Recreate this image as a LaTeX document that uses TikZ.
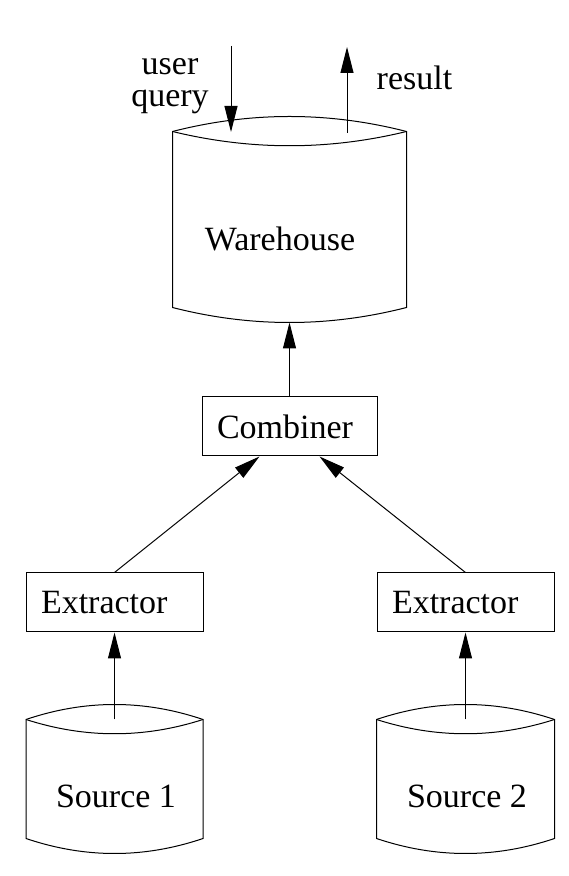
\documentclass[tikz,border=0pt]{standalone}
\usepackage{fontspec}
\setmainfont{Liberation Serif}
\usepackage{tikz}
\usetikzlibrary{calc,positioning,arrows.meta}

\newcommand{\drumoutline}[1]{%
    \draw (#1.north west)
        .. controls ($(#1.north west)!1/3!(#1.north east)+(0,20)$) and ($(#1.north west)!2/3!(#1.north east)+(0,20)$) ..
        (#1.north east) --
        ($(#1.south east)+(0,15)$)
        .. controls ($(#1.south east)!1/3!(#1.south west)+(0,-5)$) and ($(#1.south east)!2/3!(#1.south west)+(0,-5)$) ..
        ($(#1.south west)+(0,15)$) --
        cycle;
    \draw (#1.north west)
        .. controls ($(#1.north west)!1/3!(#1.north east)+(0,-19)$) and ($(#1.north west)!2/3!(#1.north east)+(0,-19)$) ..
        (#1.north east);
}

\begin{document}
\begin{tikzpicture}[x=1pt, y=1pt, line width=1pt,
    font=\fontsize{34}{32}\selectfont,
    box/.style={draw, minimum height=59pt, inner xsep=15pt, inner ysep=0pt, align=left, text width=#1},
    drum/.style={inner sep=0pt},
    arr/.style={-{Triangle[length=26pt, width=13pt]}}]

    \useasboundingbox (0,0) rectangle (568,876);

    \node [box=147pt] (ext1) at (114.5,273.5) {Extractor};
    \node [box=147pt, right=173pt of ext1] (ext2) {Extractor};
    \node [box=145pt] (comb) at (289.5,449.5) {Combiner};

    \node [drum, minimum width=233pt, minimum height=190pt, above=74pt of comb] (wh) {};
    \node [drum, minimum width=176pt, minimum height=133pt, below=87pt of ext1] (src1) {};
    \node [drum, minimum width=177pt, minimum height=133pt, below=87pt of ext2] (src2) {};

    \drumoutline{wh}
    \drumoutline{src1}
    \drumoutline{src2}

    \node [anchor=base] (whname) at (280,625) {Warehouse};
    \node [anchor=base] (srcname1) at (116,68) {Source 1};
    \node [anchor=base] (srcname2) at (467,68) {Source 2};

    \node [anchor=base, align=center] (querytext) at (170,769) {user\\query};
    \node [anchor=base] (resulttext) at (414.5,786) {result};

    \coordinate (qtop) at (231,830);
    \coordinate (qend) at (231,744);
    \coordinate (rstart) at (347,743);
    \coordinate (rtop) at (347,829);

    \draw [arr] (qtop) -- (qend);
    \draw [arr] (rstart) -- (rtop);
    \draw [arr] (comb.north) -- (wh.south);
    \draw [arr] (ext1.north) -- (comb.225);
    \draw [arr] (ext2.north) -- (comb.315);
    \draw [arr] (src1.north) -- (ext1.south);
    \draw [arr] (src2.north) -- (ext2.south);

\end{tikzpicture}
\end{document}
